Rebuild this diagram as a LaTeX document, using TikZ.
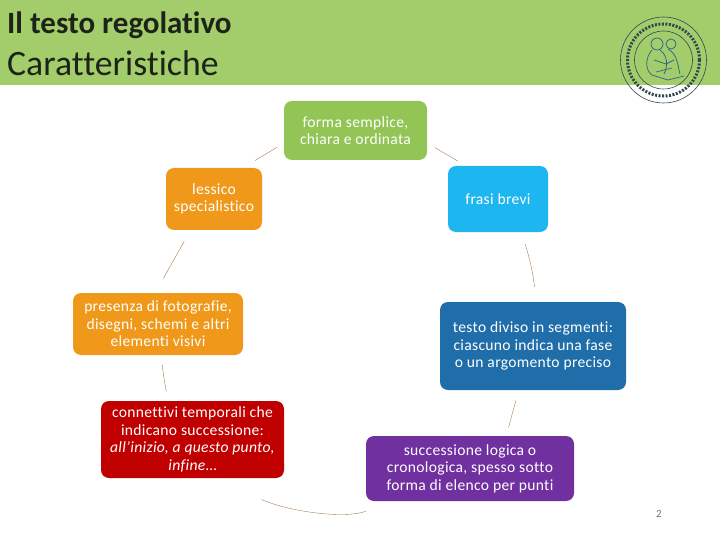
\documentclass[tikz,border=0pt]{standalone}
\usepackage{xcolor}
\usepackage{fontspec}
\setmainfont[Ligatures=NoCommon]{Carlito}
\newfontfamily\boxfont[Ligatures=NoCommon, LetterSpace=2]{Carlito}
\usetikzlibrary{arrows.meta, positioning, calc}
\definecolor{mygreen}{RGB}{162,205,106}
\definecolor{boxgreen}{RGB}{146,196,86}
\definecolor{boxorange}{RGB}{240,152,26}
\definecolor{boxred}{RGB}{192,0,0}
\definecolor{boxpurple}{RGB}{112,48,160}
\definecolor{boxblue}{RGB}{31,110,169}
\definecolor{boxsky}{RGB}{29,182,240}
\definecolor{mylink}{RGB}{165,125,80}
\definecolor{myseal}{RGB}{50,70,85}
\definecolor{mypage}{RGB}{120,120,120}
\definecolor{mytitle}{RGB}{30,35,25}
\tikzset{
  topic/.style={rectangle, fill=#1, text=white, align=center, inner sep=0pt,
    font=\boxfont\fontsize{15.6}{17.5}\selectfont, rounded corners=8pt},
  link/.style={thin, color=mylink},
  titletext/.style={anchor=base west, inner sep=0pt, text=mytitle},
  sealline/.style={color=myseal, line width=0.6pt},
  figline/.style={color=boxblue!65!myseal, line width=0.7pt}
}
\begin{document}
\begin{tikzpicture}[x=1pt, y=-1pt]
  \useasboundingbox (0,0) rectangle (720,540);
  % Title band
  \fill[mygreen] (0,0) rectangle (720,85);
  \node[titletext, font=\fontsize{31}{34}\selectfont\bfseries] (title) at (7,34) {Il testo regolativo};
  \node[titletext, font=\fontsize{35.7}{40}\selectfont] (subtitle) at (7,76) {Caratteristiche};

  % Seal
  \draw[sealline] (663.5,60) circle[radius=43];
  \draw[sealline] (663.5,60) circle[radius=29];
  \draw[sealline, line width=3pt, dash pattern=on 2pt off 1.5pt] (663.5,60) circle[radius=36];
  \draw[figline] (657,44) circle[radius=6] (671,44) circle[radius=5];
  \draw[figline] (652,50) .. controls (645,58) and (645,70) .. (652,75) -- (668,80) -- (684,76);
  \draw[figline] (660,50) .. controls (668,56) and (668,66) .. (664,74);
  \draw[figline] (668,49) .. controls (678,54) and (678,68) .. (680,74);
  \draw[figline] (654,60) -- (666,64) -- (674,60) (656,72) -- (672,68);

  % Topics around the ring
  \node[topic=boxgreen, minimum width=143, minimum height=59] (forma) at (355.5,130.5) {forma semplice,\\chiara e ordinata};
  \node[topic=boxsky, minimum width=100, minimum height=66] (frasi) at (498,199) {frasi brevi};
  \node[topic=boxblue, minimum width=186, minimum height=88] (testo) at (533,346) {testo diviso in segmenti:\\ciascuno indica una fase\\o un argomento preciso};
  \node[topic=boxpurple, minimum width=208, minimum height=65] (succ) at (470,468.5) {successione logica o\\cronologica, spesso sotto\\forma di elenco per punti};
  \node[topic=boxred, minimum width=183, minimum height=77] (conn) at (192.5,439.5) {connettivi temporali che\\indicano successione:\\\textit{all’inizio, a questo punto,}\\\textit{infine}\dots};
  \node[topic=boxorange, minimum width=170, minimum height=62] (foto) at (158,324) {presenza di fotografie,\\disegni, schemi e altri\\elementi visivi};
  \node[topic=boxorange, minimum width=96, minimum height=62] (lessico) at (214,199) {lessico\\specialistico};

  % Ring segments
  \draw[link, shorten <=9pt, shorten >=9.5pt] (forma.-10.5) -- (frasi.134);
  \draw[link, shorten <=12.5pt, shorten >=15pt] (frasi.-55.7) to[bend left=6] (testo.86);
  \draw[link, shorten <=10.5pt, shorten >=8.7pt] (testo.252.8) -- (succ.42.9);
  \draw[link, shorten <=29pt, shorten >=53pt] (succ.203.4) .. controls (345,519) and (290,512) .. (conn.-62);
  \draw[link, shorten <=10pt, shorten >=9.7pt] (conn.122.5) to[bend left=3] (foto.-84.5);
  \draw[link, shorten <=16.5pt, shorten >=12.7pt] (foto.95.5) -- (lessico.233.4);
  \draw[link, shorten <=14pt, shorten >=8pt] (lessico.47.9) -- (forma.190.7);

  % Page number
  \node[text=mypage, font=\fontsize{11}{13}\selectfont, inner sep=0pt] (pagenum) at (659,514) {2};
\end{tikzpicture}
\end{document}
